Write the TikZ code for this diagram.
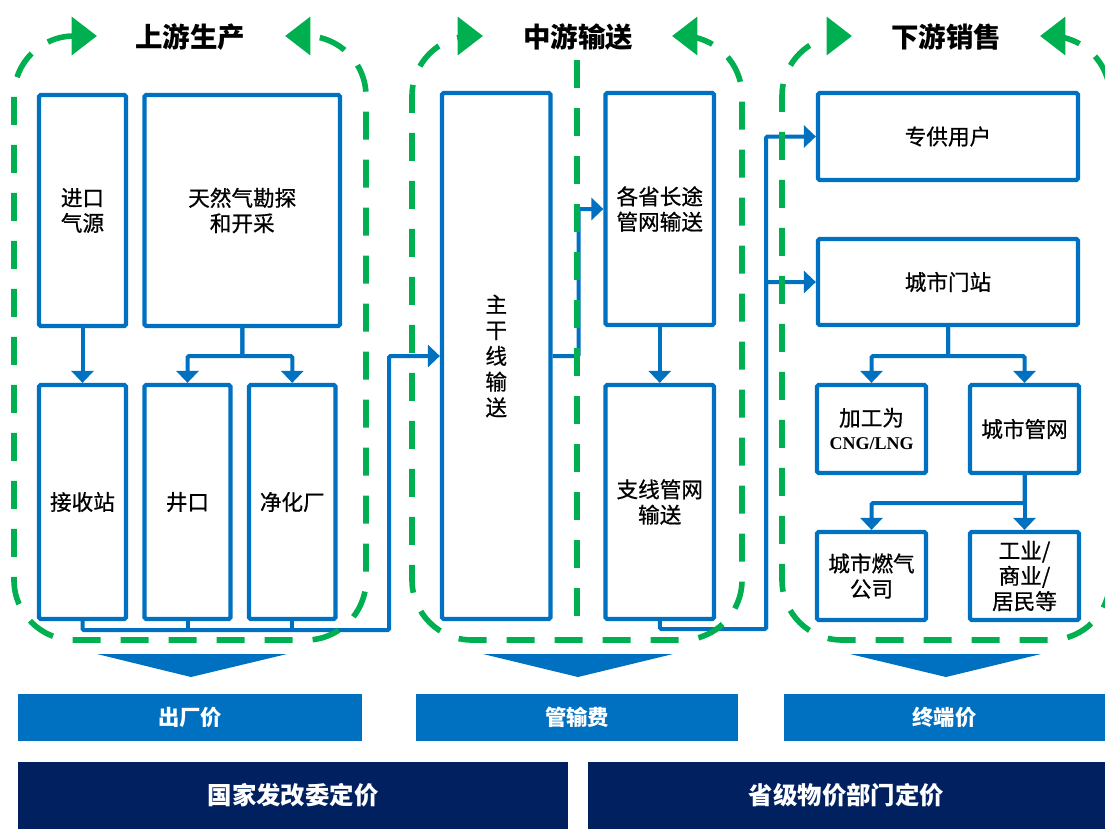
\documentclass[tikz,border=0pt]{standalone}
\usepackage{fontspec}
\setmainfont{Noto Sans CJK SC}
\newfontfamily\boxcjk[FakeBold=0.7]{Noto Sans CJK SC}
\newfontfamily\tnr{Liberation Serif}
\usetikzlibrary{arrows.meta}
\definecolor{pblue}{HTML}{0070C0}
\definecolor{pgreen}{HTML}{00B050}
\definecolor{pnavy}{HTML}{002060}
\tikzset{
  wh/.style 2 args={minimum width=#1*0.75pt, minimum height=#2*0.75pt},
  box/.style={draw=pblue, line width=3.2pt, rounded corners=1.2pt, inner sep=0pt,
    fill=white, align=center, text=black, font=\boxcjk\fontsize{16.2}{19}\selectfont},
  flow/.style={draw=pblue, line width=3pt, rounded corners=1pt},
  arr/.style={flow, -{Triangle[length=9pt,width=16.5pt]}},
  cyc/.style={draw=pgreen, line width=4.2pt, dash pattern=on 21pt off 15pt,
    rounded corners=45pt, arrows={Triangle[length=19pt,width=28pt]-Triangle[length=19pt,width=28pt]}},
  midline/.style={draw=pgreen, line width=4.2pt, dash pattern=on 21pt off 15pt},
  title/.style={font=\fontsize{20.6}{24}\selectfont\bfseries, text=black},
  price/.style={fill=pblue, inner sep=0pt, text=white, font=\fontsize{16}{19}\selectfont\bfseries},
  auth/.style={fill=pnavy, inner sep=0pt, text=white, font=\fontsize{18.3}{22}\selectfont\bfseries},
  funnel/.style={fill=pblue}
}
\begin{document}
\begin{tikzpicture}[x=0.75pt,y=-0.75pt]
\useasboundingbox (0,0) rectangle (1105,829);
\clip (0,0) rectangle (1105,829);

% titles
\node[title] (t1) at (190,37) {上游生产};
\node[title] (t2) at (578,37) {中游输送};
\node[title] (t3) at (946,37) {下游销售};

% upstream
\node[box, wh={87}{231}] (imp) at (82.5,210.5) {进口\\气源};
\node[box, wh={195.5}{231}] (gas) at (242.25,210.5) {天然气勘探\\和开采};
\node[box, wh={87}{234}] (rcv) at (82.5,502) {接收站};
\node[box, wh={86}{234}] (well) at (187.5,502) {井口};
\node[box, wh={86.5}{234}] (plant) at (292.25,502) {净化厂};

% midstream
\node[box, wh={108.5}{526}, font=\boxcjk\fontsize{16.2}{19.3}\selectfont] (trunk) at (496.25,356) {主\\干\\线\\输\\送};
\node[box, wh={108.5}{232}] (prov) at (659.75,209) {各省长途\\管网输送};
\node[box, wh={108.5}{234}] (branch) at (659.75,502) {支线管网\\输送};

% downstream
\node[box, wh={260}{87}] (special) at (948,136.5) {专供用户};
\node[box, wh={260}{86}] (gate) at (948,282) {城市门站};
\node[box, wh={109}{88}, font=\boxcjk\fontsize{16.2}{18}\selectfont] (cng) at (871.5,429) {加工为\\{\tnr\bfseries\fontsize{13.5}{16}\selectfont CNG/LNG}};
\node[box, wh={109}{88}] (citynet) at (1024.5,429) {城市管网};
\node[box, wh={109}{88}] (gasco) at (871.5,576) {城市燃气\\公司};
\node[box, wh={109}{88}] (users) at (1024.5,576) {工业/\\商业/\\居民等};

% connectors upstream
\draw[arr] (imp.south) -- (rcv.north);
\draw[arr] (gas.south) -- ++(0,28) -| (well.north);
\draw[arr] (gas.south) -- ++(0,28) -| (plant.north);
\coordinate (j1) at (389,630);
\draw[arr] (rcv.south) |- (j1) |- (trunk.west);
\draw[flow] (well.south) -- (well.south |- j1);
\draw[flow] (plant.south) -- (plant.south |- j1);

% connectors midstream
\draw[arr] (trunk.east) -- ++(26,0) |- (prov.west);
\draw[arr] (prov.south) -- (branch.north);
\coordinate (j3) at (766,629);
\draw[arr] (branch.south) |- (j3) |- (special.west);
\draw[arr] (j3) |- (gate.west);

% connectors downstream
\draw[arr] (gate.south) -- ++(0,29) -| (cng.north);
\draw[arr] (gate.south) -- ++(0,29) -| (citynet.north);
\draw[arr] (citynet.south) -- ++(0,28) -| (gasco.north);
\draw[arr] (citynet.south) -- (users.north);

% green cycles
\draw[cyc] (97,36) -- (14,36) -- (14,640) -- (366,640) -- (366,36) -- (285,36);
\draw[cyc] (483,36) -- (412,36) -- (412,640) -- (742,640) -- (742,36) -- (672,36);
\draw[cyc] (852,36) -- (782,36) -- (782,640) -- (1110,640) -- (1110,36) -- (1040,36);
\draw[midline] (577,60) -- (577,632);

% funnels
\fill[funnel] (97,654) -- (287,654) -- (191,677) -- cycle;
\fill[funnel] (483,654) -- (673,654) -- (578,677) -- cycle;
\fill[funnel] (850,654) -- (1041,654) -- (946,677) -- cycle;

% price bars
\node[price, wh={344}{47}] (p1) at (190,717.5) {出厂价};
\node[price, wh={322}{47}] (p2) at (577,717.5) {管输费};
\node[price, wh={321}{47}] (p3) at (944.5,717.5) {终端价};
\node[auth, wh={550}{67}] (a1) at (293,795.5) {国家发改委定价};
\node[auth, wh={517}{67}] (a2) at (846.5,795.5) {省级物价部门定价};
\end{tikzpicture}
\end{document}
